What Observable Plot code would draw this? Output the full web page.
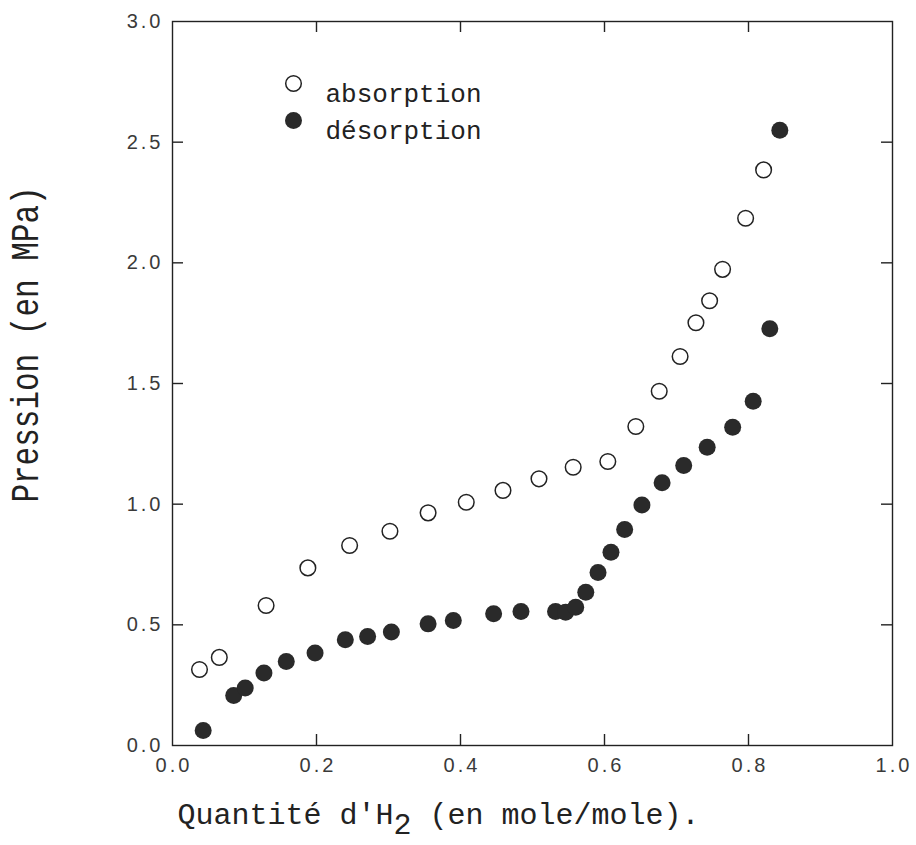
<!DOCTYPE html>
<html>
<head>
<meta charset="utf-8">
<script src="https://cdn.jsdelivr.net/npm/d3@7"></script>
<script src="https://cdn.jsdelivr.net/npm/@observablehq/plot@0.6"></script>
<style>
  body { margin: 0; background: #fff; }
</style>
</head>
<body>
<div id="chart"></div>
<script>
// ---- data ----
const seriesNames = ["absorption", "désorption"];

const absorptionX = [0.0375, 0.065, 0.130, 0.188, 0.246, 0.302, 0.355, 0.408, 0.459, 0.509,
                     0.5565, 0.6046, 0.6435, 0.676, 0.705, 0.727, 0.746, 0.764, 0.796, 0.821];
const absorptionY = [0.315, 0.365, 0.580, 0.736, 0.829, 0.888, 0.964, 1.008, 1.057, 1.105,
                     1.153, 1.177, 1.322, 1.468, 1.612, 1.752, 1.843, 1.973, 2.185, 2.385];

const desorptionX = [0.0426, 0.085, 0.101, 0.127, 0.158, 0.198, 0.240, 0.271, 0.304, 0.355,
                     0.390, 0.446, 0.484, 0.532, 0.546, 0.560, 0.574, 0.591, 0.609, 0.628,
                     0.652, 0.680, 0.710, 0.7426, 0.778, 0.8065, 0.8296, 0.8435];
const desorptionY = [0.062, 0.207, 0.238, 0.300, 0.348, 0.383, 0.438, 0.452, 0.470, 0.504,
                     0.518, 0.546, 0.555, 0.555, 0.552, 0.573, 0.635, 0.717, 0.801, 0.895,
                     0.997, 1.089, 1.160, 1.236, 1.319, 1.426, 1.727, 2.549];

const xTicks = [0.0, 0.2, 0.4, 0.6, 0.8, 1.0];
const yTicks = [0.0, 0.5, 1.0, 1.5, 2.0, 2.5, 3.0];
const xTickLabels = ["0.0", "0.2", "0.4", "0.6", "0.8", "1.0"];
const yTickLabels = ["0.0", "0.5", "1.0", "1.5", "2.0", "2.5", "3.0"];

const xLabelMain = "Quantité d'H";
const xLabelSub = "2";
const xLabelRest = " (en mole/mole).";
const yLabel = "Pression (en MPa)";

// ---- tables built from the arrays ----
const absorption = absorptionX.map((x, i) => ({x, y: absorptionY[i]}));
const desorption = desorptionX.map((x, i) => ({x, y: desorptionY[i]}));
const xTickRows = xTicks.map((v, i) => ({v, label: xTickLabels[i]}));
const yTickRows = yTicks.map((v, i) => ({v, label: yTickLabels[i]}));
const innerX = xTicks.slice(1, -1);
const innerY = yTicks.slice(1, -1);
const xLabelFull = xLabelMain + xLabelSub + xLabelRest;

// ---- layout ----
const W = 916, H = 845;
const mL = 172, mR = 24, mT = 21, mB = 100;
const pw = W - mL - mR, ph = H - mT - mB;
const tickLen = 11;
const ink = "#222";
const mono = "'Liberation Mono', 'DejaVu Sans Mono', monospace";
const sans = "'Liberation Sans', 'DejaVu Sans', sans-serif";

const chart = Plot.plot({
  width: W, height: H,
  marginLeft: mL, marginRight: mR, marginTop: mT, marginBottom: mB,
  x: {domain: [0, 1], axis: null},
  y: {domain: [0, 3], axis: null},
  style: {background: "white", color: ink},
  marks: [
    Plot.frame({stroke: ink, strokeWidth: 1.4}),
    // inward ticks on all four sides
    Plot.ruleX(innerX, {x: d => d, insetTop: ph - tickLen, stroke: ink, strokeWidth: 1.4}),
    Plot.ruleX(innerX, {x: d => d, insetBottom: ph - tickLen, stroke: ink, strokeWidth: 1.4}),
    Plot.ruleY(innerY, {y: d => d, insetRight: pw - tickLen, stroke: ink, strokeWidth: 1.4}),
    Plot.ruleY(innerY, {y: d => d, insetLeft: pw - tickLen, stroke: ink, strokeWidth: 1.4}),
    // tick labels
    Plot.text(xTickRows, {x: "v", text: "label", frameAnchor: "bottom", dy: 26, dx: 1.5,
      fontFamily: sans, fontSize: 20, fill: "#3a3a3a"}),
    Plot.text(yTickRows, {y: "v", text: "label", frameAnchor: "left", dx: -9, textAnchor: "end",
      fontFamily: sans, fontSize: 20, fill: "#3a3a3a"}),
    // data
    Plot.dot(absorption, {x: "x", y: "y", r: 7.8, fill: "white", stroke: ink, strokeWidth: 1.5}),
    Plot.dot(desorption, {x: "x", y: "y", r: 8.5, fill: "#2a2a2a", stroke: "none"}),
    // legend
    Plot.dot([seriesNames[0]], {frameAnchor: "top-left", dx: 121, dy: 62, r: 7.8,
      fill: "white", stroke: ink, strokeWidth: 1.5}),
    Plot.dot([seriesNames[1]], {frameAnchor: "top-left", dx: 121, dy: 99, r: 8.5,
      fill: "#2a2a2a", stroke: "none"}),
    Plot.text([seriesNames[0]], {text: d => d, frameAnchor: "top-left", dx: 153, dy: 62,
      textAnchor: "start", fontFamily: mono, fontSize: 26, fill: ink}),
    Plot.text([seriesNames[1]], {text: d => d, frameAnchor: "top-left", dx: 153, dy: 99,
      textAnchor: "start", fontFamily: mono, fontSize: 26, fill: ink}),
    // axis titles
    Plot.text([xLabelFull], {text: d => d, frameAnchor: "bottom-left",
      dx: 5, dy: 78, textAnchor: "start", fontFamily: mono, fontSize: 30, fill: ink}),
    Plot.text([yLabel], {text: d => d, frameAnchor: "left", rotate: -90, dx: -147, dy: -39,
      textAnchor: "middle", fontFamily: mono, fontSize: 31, fill: ink})
  ]
});

const svg = chart.tagName.toLowerCase() === "svg" ? chart : chart.querySelector("svg");
const texts = Array.from(svg.querySelectorAll("text"));

// tick label spacing (wide, as in the scan)
texts.filter(t => xTickLabels.includes(t.textContent) || yTickLabels.includes(t.textContent))
     .forEach(t => { t.style.letterSpacing = "3px"; });

// subscript for H2
const xt = texts.find(t => t.textContent === xLabelFull);
if (xt) {
  const s = d3.select(xt);
  s.text(null);
  s.append("tspan").text(xLabelMain);
  s.append("tspan").attr("dy", 10).text(xLabelSub);
  s.append("tspan").attr("dy", -10).text(xLabelRest);
}

// stretch y title glyphs across the line as in the scan
const yt = texts.find(t => t.textContent === yLabel);
if (yt) {
  const tr = yt.getAttribute("transform") || "";
  yt.setAttribute("transform", tr + " scale(1,1.25)");
}

document.getElementById("chart").appendChild(chart);
</script>
</body>
</html>
